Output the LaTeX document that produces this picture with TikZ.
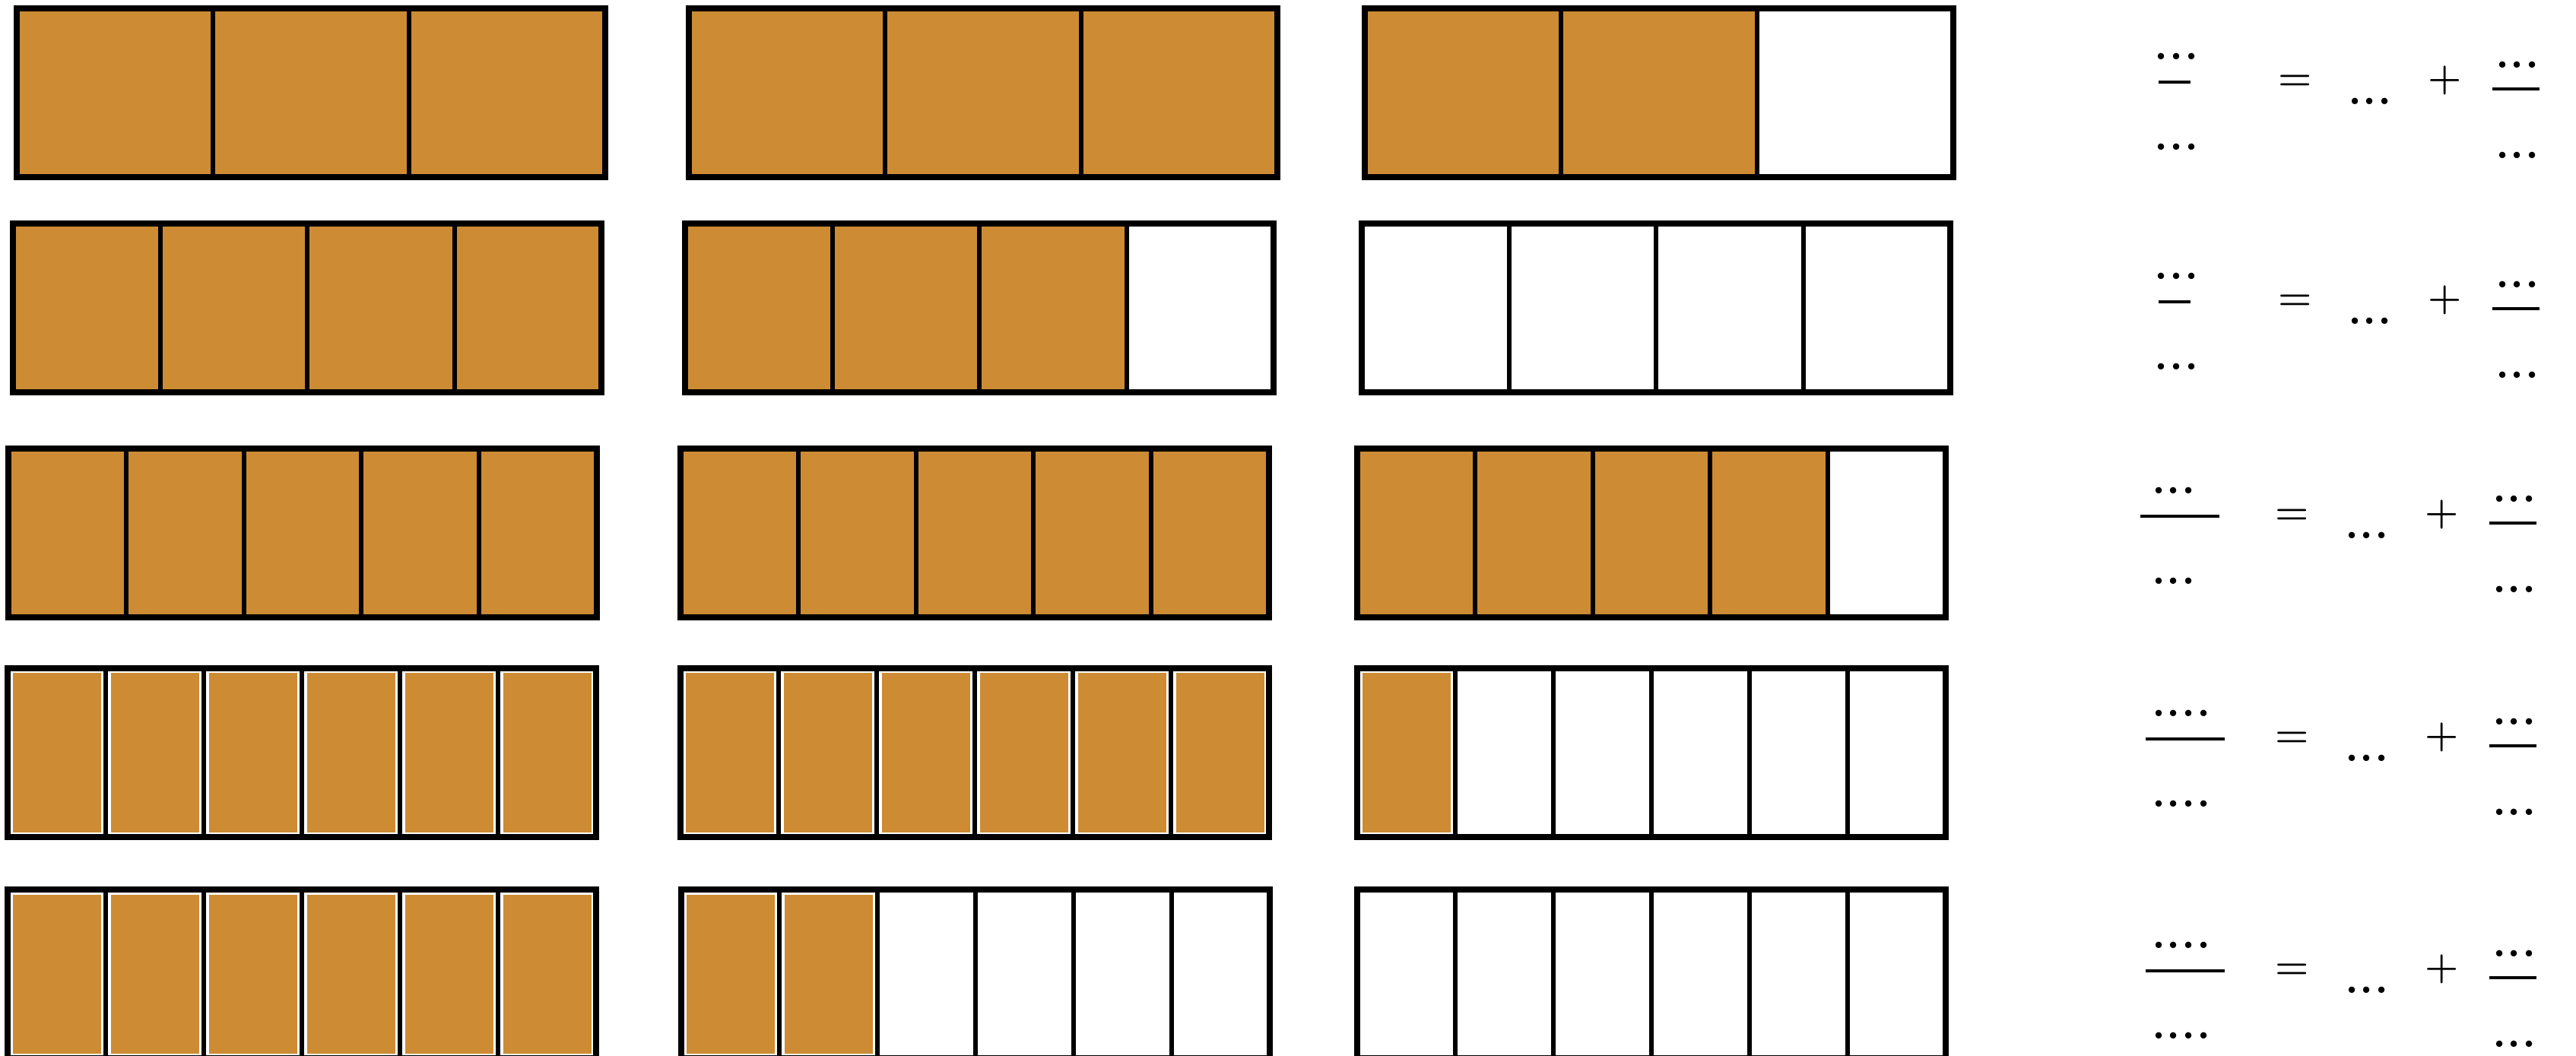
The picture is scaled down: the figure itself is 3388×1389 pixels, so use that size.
\documentclass[tikz,border=0pt]{standalone}
\definecolor{orangefill}{RGB}{205,139,52}
\tikzset{
  cellfill/.style={fill=orangefill},
  divider/.style={line width=0.06cm},
  frame/.style={line width=0.08cm},
  fracbar/.style={line width=0.034cm},
  eqtext/.style={inner sep=0pt, font=\fontsize{16.5}{19}\selectfont\bfseries},
  optext/.style={inner sep=0pt, font=\fontsize{14.3}{17}\selectfont\boldmath},
}
\newcommand\dthree{.\kern.03em.\kern.03em.}
\newcommand\dfour{.\kern.03em.\kern.03em.\kern.03em.}
% #1 x0, #2 y0, #3 cells, #4 filled cells, #5 inset of the fill
\newcommand\strip[5]{%
  \pgfmathsetmacro\cw{774/#3}%
  \ifnum#4>0
    \foreach \i in {1,...,#4}{\fill[cellfill] ({#1+(\i-1)*\cw+#5},{#2+#5}) rectangle ({#1+\i*\cw-#5},{#2+222-#5});}%
  \fi
  \pgfmathtruncatemacro\nm{#3-1}%
  \foreach \i in {1,...,\nm}{\draw[divider] ({#1+\i*\cw},#2) -- ({#1+\i*\cw},{#2+222});}%
  \draw[frame] (#1,#2) rectangle ({#1+774},{#2+222});%
}
% #1 row id, #2 E (centre of =), #3 left x centre, #4 bar left, #5 bar right, #6 dots, #7 shift
\newcommand\eqrow[7]{%
  \node[eqtext] (ln#1) at (#3,{#2-32}) {#6};
  \coordinate (lbl#1) at (#4,{#2+2});
  \coordinate (lbr#1) at (#5,{#2+2});
  \draw[fracbar] (lbl#1) -- (lbr#1);
  \node[eqtext] (ld#1) at (#3,{#2+87}) {#6};
  \node[optext, anchor=base] (eq#1) at ({3018.5+#7},{#2+12.6}) {$=$};
  \node[eqtext] (mid#1) at ({3117+#7},{#2+27}) {\dthree};
  \node[optext, anchor=base] (pl#1) at ({3215.5+#7},{#2+12.6}) {$+$};
  \node[eqtext] (rn#1) at ({3311+#7},{#2-21}) {\dthree};
  \coordinate (rbl#1) at ({3278+#7},{#2+11});
  \coordinate (rbr#1) at ({3340+#7},{#2+11});
  \draw[fracbar] (rbl#1) -- (rbr#1);
  \node[eqtext] (rd#1) at ({3311+#7},{#2+98}) {\dthree};
}
\begin{document}
\begin{tikzpicture}[x=0.01cm,y=-0.01cm]
\useasboundingbox (0,0) rectangle (3388,1389);
% row 1
\strip{22}{11}{3}{3}{0}
\strip{906}{11}{3}{3}{0}
\strip{1795}{11}{3}{2}{0}
% row 2
\strip{17}{294}{4}{4}{0}
\strip{901}{294}{4}{3}{0}
\strip{1791}{294}{4}{0}{0}
% row 3
\strip{11}{590}{5}{5}{0}
\strip{895}{590}{5}{5}{0}
\strip{1785}{590}{5}{4}{0}
% row 4
\strip{10}{879}{6}{6}{6.5}
\strip{895}{879}{6}{6}{6.5}
\strip{1785}{879}{6}{1}{6.5}
% row 5
\strip{10}{1170}{6}{6}{6.5}
\strip{896}{1170}{6}{2}{6.5}
\strip{1785}{1170}{6}{0}{6.5}
% equations
\eqrow{1}{106}{2862.5}{2839}{2881}{\dthree}{0}
\eqrow{2}{395}{2862.5}{2839}{2881}{\dthree}{0}
\eqrow{3}{677}{2859}{2815}{2919}{\dthree}{-4}
\eqrow{4}{970}{2869}{2822}{2926}{\dfour}{-4}
\eqrow{5}{1275}{2869}{2822}{2926}{\dfour}{-4}
\end{tikzpicture}
\end{document}
